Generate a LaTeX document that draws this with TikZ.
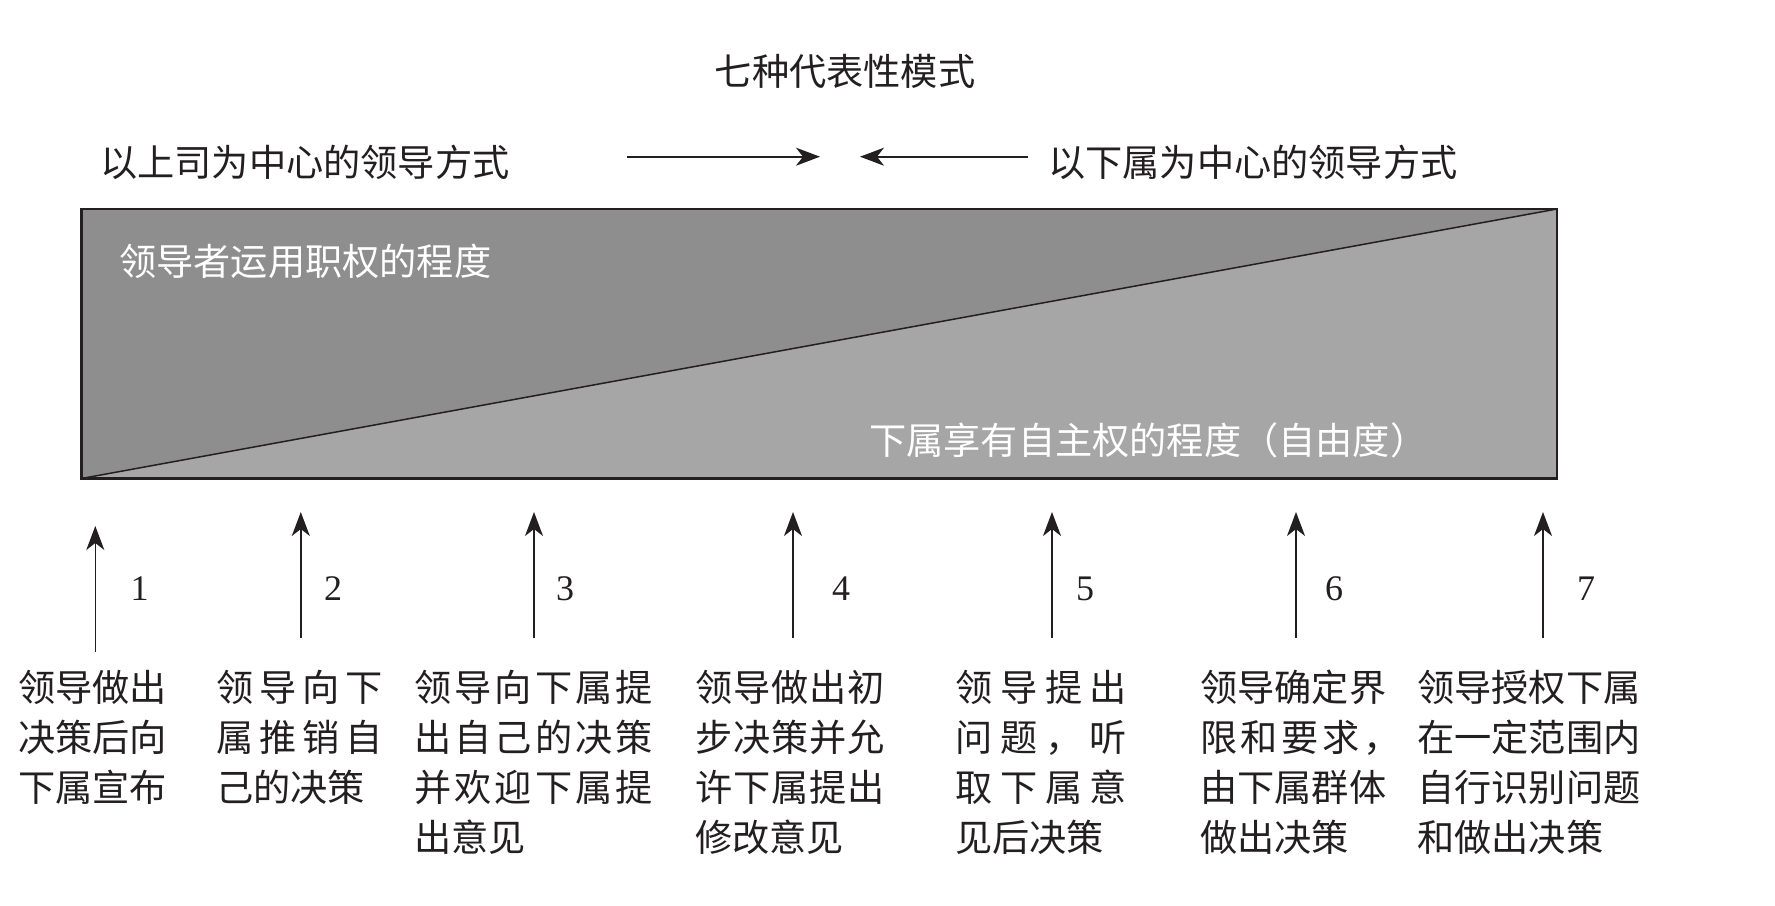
\documentclass[tikz,border=0pt]{standalone}
\usepackage{fontspec}
\setmainfont{Liberation Serif}
\newfontfamily\cjk{Noto Sans CJK SC}
\usetikzlibrary{arrows.meta}
\definecolor{ink}{HTML}{231F20}
\definecolor{darkfill}{HTML}{8F8E8F}
\definecolor{lightfill}{HTML}{A7A6A7}
\newcommand{\sprd}[2]{\makebox[#1][s]{#2}}
\begin{document}
\begin{tikzpicture}[x=1pt,y=-1pt,
  lbl/.style={inner sep=0pt, anchor=base west, font={\cjk\fontsize{37.2}{50}\selectfont}, text=ink},
  wlbl/.style={lbl, text=white},
  ttl/.style={lbl, anchor=base},
  num/.style={inner sep=0pt, anchor=base, font={\fontsize{36}{40}\selectfont}, text=ink},
  arr/.style={draw=ink, line width=1.6pt, -{Stealth[length=24pt,width=18pt,inset=7pt]}},
]
\useasboundingbox (0,0) rectangle (1775,905);

% title and top labels
\node[ttl] (title) at (845,85) {七种代表性模式};
\node[lbl] (left) at (100,176) {以上司为中心的领导方式};
\node[lbl] (right) at (1048,176) {以下属为中心的领导方式};
\coordinate (ra1) at (627,156.7);
\coordinate (ra2) at (820,156.7);
\coordinate (la1) at (1028,156.7);
\coordinate (la2) at (860,156.7);
\draw[arr] (ra1) -- (ra2);
\draw[arr] (la1) -- (la2);

% main box
\coordinate (tl) at (81.5,209);
\coordinate (tr) at (1557,209);
\coordinate (bl) at (81.5,478.5);
\coordinate (br) at (1557,478.5);
\fill[darkfill] (tl) -- (tr) -- (bl) -- cycle;
\fill[lightfill] (bl) -- (tr) -- (br) -- cycle;
\draw[ink, line width=1.5pt] (bl) -- (tr);
\draw[ink, line width=2.2pt] (tl) rectangle (br);
\node[wlbl] (upper) at (119,275) {领导者运用职权的程度};
\node[wlbl] (lower) at (869,454) {下属享有自主权的程度（自由度）};

% arrows and numbers
\coordinate (s1) at (95.3,652);  \coordinate (e1) at (95.3,526);
\coordinate (s2) at (300.8,638); \coordinate (e2) at (300.8,512);
\coordinate (s3) at (534,638);   \coordinate (e3) at (534,512);
\coordinate (s4) at (793,638);   \coordinate (e4) at (793,512);
\coordinate (s5) at (1052,638);  \coordinate (e5) at (1052,512);
\coordinate (s6) at (1296,638);  \coordinate (e6) at (1296,512);
\coordinate (s7) at (1543,638);  \coordinate (e7) at (1543,512);
\foreach \i in {1,...,7} { \draw[arr] (s\i) -- (e\i); }
\node[num] (n1) at (139.5,600) {1};
\node[num] (n2) at (333,600) {2};
\node[num] (n3) at (565,600) {3};
\node[num] (n4) at (841,600) {4};
\node[num] (n5) at (1085,600) {5};
\node[num] (n6) at (1334,600) {6};
\node[num] (n7) at (1586,600) {7};

% block 1
\node[lbl] (b1a) at (18,701) {领导做出};
\node[lbl] (b1b) at (18,751) {决策后向};
\node[lbl] (b1c) at (18,801) {下属宣布};
% block 2
\node[lbl] (b2a) at (216,701) {\sprd{167pt}{领\hfill 导\hfill 向\hfill 下}};
\node[lbl] (b2b) at (216,751) {\sprd{167pt}{属\hfill 推\hfill 销\hfill 自}};
\node[lbl] (b2c) at (216,801) {己的决策};
% block 3
\node[lbl] (b3a) at (414,701) {\sprd{239pt}{领\hfill 导\hfill 向\hfill 下\hfill 属\hfill 提}};
\node[lbl] (b3b) at (414,751) {\sprd{239pt}{出\hfill 自\hfill 己\hfill 的\hfill 决\hfill 策}};
\node[lbl] (b3c) at (414,801) {\sprd{239pt}{并\hfill 欢\hfill 迎\hfill 下\hfill 属\hfill 提}};
\node[lbl] (b3d) at (414,851) {出意见};
% block 4
\node[lbl] (b4a) at (695,701) {\sprd{190pt}{领\hfill 导\hfill 做\hfill 出\hfill 初}};
\node[lbl] (b4b) at (695,751) {\sprd{190pt}{步\hfill 决\hfill 策\hfill 并\hfill 允}};
\node[lbl] (b4c) at (695,801) {\sprd{190pt}{许\hfill 下\hfill 属\hfill 提\hfill 出}};
\node[lbl] (b4d) at (695,851) {修改意见};
% block 5
\node[lbl] (b5a) at (955,701) {\sprd{172pt}{领\hfill 导\hfill 提\hfill 出}};
\node[lbl] (b5b) at (955,751) {\sprd{172pt}{问\hfill 题\hfill ，\hfill 听}};
\node[lbl] (b5c) at (955,801) {\sprd{172pt}{取\hfill 下\hfill 属\hfill 意}};
\node[lbl] (b5d) at (955,851) {见后决策};
% block 6
\node[lbl] (b6a) at (1200,701) {领导确定界};
\node[lbl] (b6b) at (1200,751) {\sprd{200pt}{限\hfill 和\hfill 要\hfill 求\hfill ，}};
\node[lbl] (b6c) at (1200,801) {由下属群体};
\node[lbl] (b6d) at (1200,851) {做出决策};
% block 7
\node[lbl] (b7a) at (1417,701) {领导授权下属};
\node[lbl] (b7b) at (1417,751) {在一定范围内};
\node[lbl] (b7c) at (1417,801) {自行识别问题};
\node[lbl] (b7d) at (1417,851) {和做出决策};
\end{tikzpicture}
\end{document}
